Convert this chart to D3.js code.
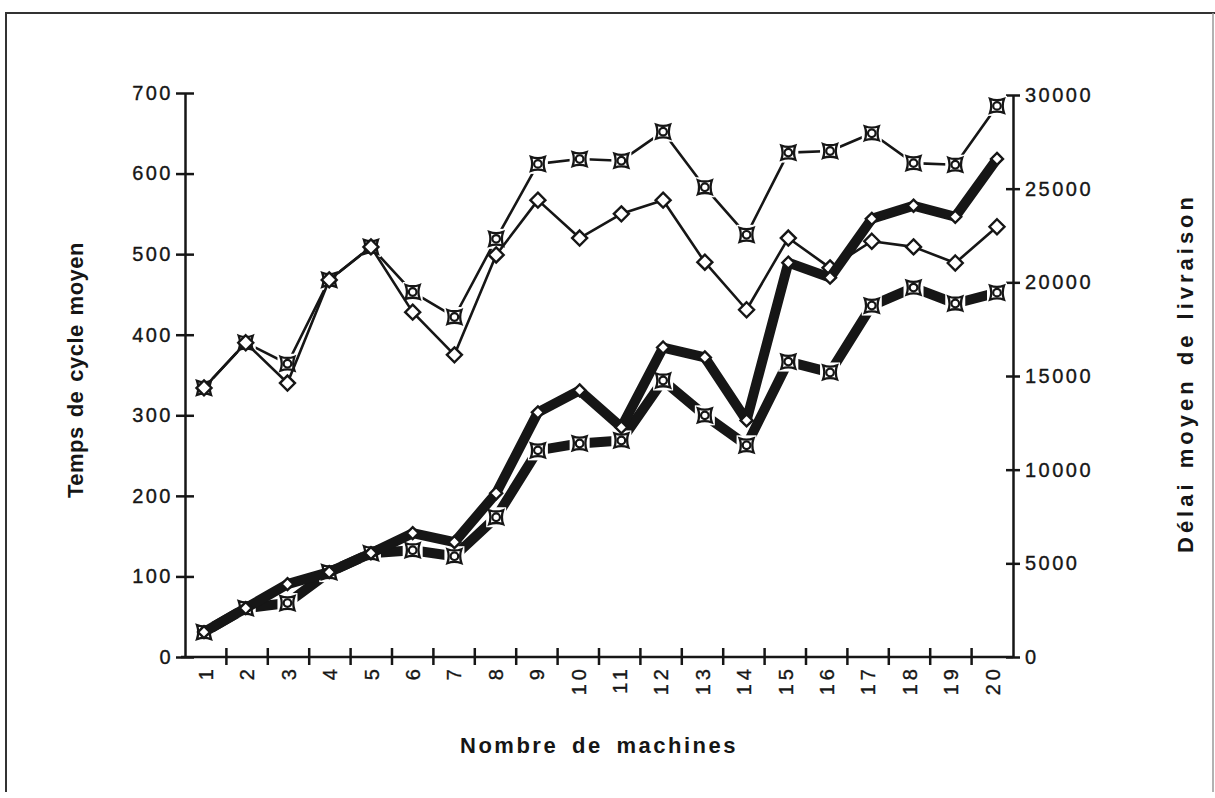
<!DOCTYPE html>
<html>
<head>
<meta charset="utf-8">
<script src="https://cdn.jsdelivr.net/npm/d3@7"></script>
<style>
  body { margin: 0; background: #fff; }
  svg { display: block; }
</style>
</head>
<body>
<svg id="chart"></svg>
<script>
// nombre de machines (categories)
const machines = [1, 2, 3, 4, 5, 6, 7, 8, 9, 10, 11, 12, 13, 14, 15, 16, 17, 18, 19, 20];

// temps de cycle moyen (left axis) - thin lines
const cycleCurrency = [334, 390, 364, 468, 509, 453, 422, 519, 612, 618, 616, 652, 583, 524, 626, 628, 650, 613, 611, 684];
const cycleDiamond  = [334, 390, 340, 468, 509, 428, 375, 499, 567, 520, 550, 567, 490, 431, 520, 483, 516, 509, 489, 534];

// délai moyen de livraison (right axis) - thick lines
const delaiDiamond  = [1330, 2610, 3890, 4530, 5540, 6610, 6130, 8740, 13060, 14230, 12260, 16520, 15990, 12630, 21050, 20250, 23390, 24090, 23500, 26590];
const delaiCurrency = [1330, 2610, 2880, 4530, 5540, 5700, 5380, 7460, 11030, 11400, 11560, 14760, 12900, 11300, 15770, 15190, 18760, 19720, 18870, 19450];

const leftTicks = [0, 100, 200, 300, 400, 500, 600, 700];
const rightTicks = [0, 5000, 10000, 15000, 20000, 25000, 30000];

const W = 1215, H = 798;
const ink = '#161616';
const font = "'Liberation Sans', Arial, sans-serif";

const svg = d3.select('#chart').attr('width', W).attr('height', H);
svg.append('rect').attr('width', W).attr('height', H).attr('fill', '#fff');

// scanned frame
svg.append('path')
  .attr('d', 'M6,792 V13 H1215')
  .attr('fill', 'none')
  .attr('stroke', '#333')
  .attr('stroke-width', 2);
svg.append('path')
  .attr('d', 'M1213,13 V792')
  .attr('fill', 'none')
  .attr('stroke', '#999')
  .attr('stroke-width', 1.5);

const plot = { left: 185, right: 1013, top: 93, bottom: 657 };

const x_band = d3.scaleBand().domain(machines).range([plot.left, plot.right]);
const x_pt = d3.scalePoint().domain(machines).range([204, 997]);
const y_left = d3.scaleLinear().domain([0, 700]).range([plot.bottom, plot.top]);
const y_right = d3.scaleLinear().domain([0, 30000]).range([plot.bottom, 95]);

// ---- axes
const styleAxis = (g) => {
  g.select('.domain').attr('stroke', ink).attr('stroke-width', 2.5);
  g.selectAll('.tick line').attr('stroke', ink).attr('stroke-width', 2.5);
  g.selectAll('text')
    .attr('fill', ink)
    .attr('stroke', ink)
    .attr('stroke-width', 0.35)
    .attr('font-family', font)
    .attr('font-size', 20)
    .attr('letter-spacing', 2.5);
};

svg.append('g')
  .attr('transform', `translate(${plot.left},0)`)
  .call(d3.axisLeft(y_left).tickValues(leftTicks).tickSize(10).tickSizeOuter(0).tickPadding(2).tickFormat(d3.format('d')))
  .call(styleAxis)
  .call(g => g.selectAll('.tick line').attr('x1', -9).attr('x2', 9));

svg.append('g')
  .attr('transform', `translate(${plot.right},0)`)
  .call(d3.axisRight(y_right).tickValues(rightTicks).tickSize(7).tickSizeOuter(0).tickPadding(5).tickFormat(d3.format('d')))
  .call(styleAxis)
  .call(g => g.selectAll('.tick line').attr('x1', -7).attr('x2', 7));

const xAxis = svg.append('g')
  .attr('transform', `translate(0,${plot.bottom})`)
  .call(d3.axisBottom(x_band).tickSize(0).tickSizeOuter(0))
  .call(styleAxis);
xAxis.select('.domain').attr('d', `M${plot.left - 4},0H${plot.right}`);
xAxis.selectAll('.tick text')
  .attr('transform', 'rotate(-90)')
  .attr('x', -8)
  .attr('y', 0)
  .attr('dy', '0.36em')
  .attr('text-anchor', 'end')
  .attr('letter-spacing', 4);

// x ticks at the band boundaries, crossing the axis
xAxis.selectAll('.bound').data(machines.slice(1)).join('line')
  .attr('class', 'bound')
  .attr('x1', d => x_band(d)).attr('x2', d => x_band(d))
  .attr('y1', -9).attr('y2', 8)
  .attr('stroke', ink).attr('stroke-width', 2.5);

// ---- axis titles (letter spacing given, word gaps stretched to fit the length)
function title(x, y, rot, str, len, ls) {
  const t = svg.append('text')
    .attr('transform', `translate(${x},${y}) rotate(${rot})`)
    .attr('text-anchor', 'middle')
    .attr('font-family', font).attr('font-weight', 'bold').attr('font-size', 22)
    .attr('letter-spacing', ls)
    .attr('fill', ink)
    .text(str);
  const spaces = str.split(' ').length - 1;
  const gap = (len - t.node().getComputedTextLength()) / spaces;
  t.attr('word-spacing', gap);
}
title(83, 370, -90, 'Temps de cycle moyen', 256, 0.5);
title(1193, 373, -90, 'Délai moyen de livraison', 360, 4);
title(599, 753, 0, 'Nombre de machines', 278, 2.5);

// ---- series
const series = [
  { name: 'cycle_cur', values: cycleCurrency, y: y_left, width: 2.6, marker: 'currency' },
  { name: 'cycle_dia', values: cycleDiamond, y: y_left, width: 2.6, marker: 'diamond' },
  { name: 'delai_cur', values: delaiCurrency, y: y_right, width: 10, marker: 'currency' },
  { name: 'delai_dia', values: delaiDiamond, y: y_right, width: 10, marker: 'diamond' }
];

const currencyPath = 'M-7,-7 Q0,-4.5 7,-7 Q4.5,0 7,7 Q0,4.5 -7,7 Q-4.5,0 -7,-7 Z';

series.forEach(s => {
  const pts = machines.map((m, i) => ({ m: m, v: s.values[i] }));
  const line = d3.line().x(d => x_pt(d.m)).y(d => s.y(d.v));

  svg.append('path')
    .attr('class', s.name + '_line')
    .attr('d', line(pts))
    .attr('fill', 'none')
    .attr('stroke', ink)
    .attr('stroke-width', s.width)
    .attr('stroke-linejoin', 'round');

  const marks = svg.selectAll('.' + s.name + '_mark').data(pts).join('g')
    .attr('class', s.name + '_mark')
    .attr('transform', d => `translate(${x_pt(d.m)},${s.y(d.v)})`);

  if (s.marker === 'diamond') {
    const r = s.width > 5 ? 6 : 7.5;
    marks.append('path')
      .attr('d', `M0,${-r}L${r},0L0,${r}L${-r},0Z`)
      .attr('fill', '#fff')
      .attr('stroke', ink)
      .attr('stroke-width', 2.4);
  } else {
    marks.append('rect')
      .attr('x', -10).attr('y', -10).attr('width', 20).attr('height', 20)
      .attr('fill', '#fff');
    marks.append('path')
      .attr('d', currencyPath)
      .attr('fill', 'none')
      .attr('stroke', ink)
      .attr('stroke-width', 2.3);
    marks.append('circle')
      .attr('r', 3.8)
      .attr('fill', '#fff')
      .attr('stroke', ink)
      .attr('stroke-width', 2.2);
  }
});
</script>
</body>
</html>
